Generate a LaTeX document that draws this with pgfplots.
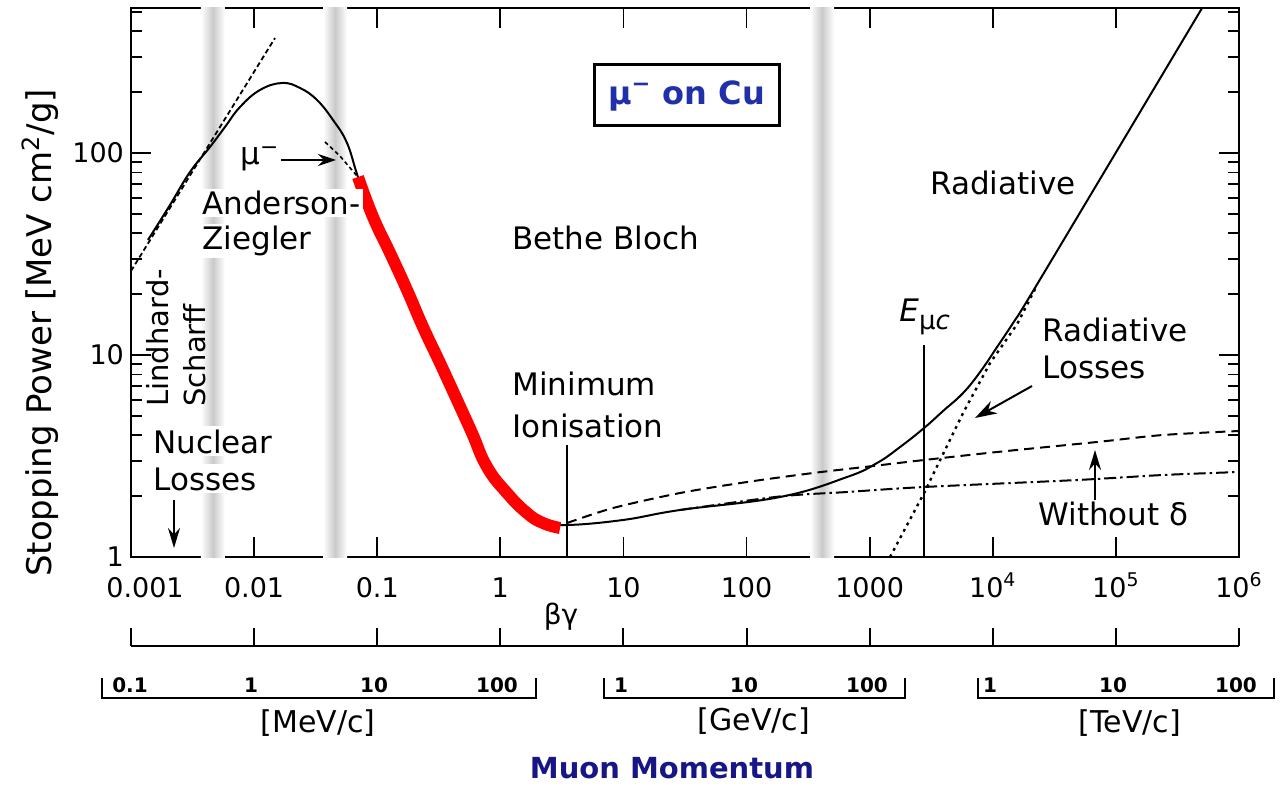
\documentclass[border=0pt]{standalone}
\usepackage{fontspec}
\setmainfont{DejaVu Sans}
\usepackage{pgfplots}
\pgfplotsset{compat=1.18}
\usetikzlibrary{arrows.meta}
\definecolor{cublue}{RGB}{32,48,168}
\definecolor{navy}{RGB}{22,22,135}
\newcommand\fA{\fontsize{15.5}{18}\selectfont}
\newcommand\fT{\fontsize{13.5}{16}\selectfont}
\begin{document}
\begin{tikzpicture}
\begin{axis}[
  at={(0,0)}, anchor=south west, scale only axis,
  width=554pt, height=274.5pt,
  xmode=log, ymode=log,
  xmin=1e-3, xmax=1e6, ymin=1, ymax=522.2,
  xtick={1e-3,1e-2,1e-1,1,10,100,1000,1e4,1e5,1e6},
  xticklabels={\hspace*{14pt}0.001,0.01,0.1,1,10,100,1000,10\textsuperscript{4},10\textsuperscript{5},10\textsuperscript{6}},
  xminorticks=false,
  ytick={1,10,100,1000},
  yticklabels={1,10,100,1000},
  tick label style={font=\fT},
  xticklabel style={anchor=base, yshift=-20pt},
  major tick length=10pt, minor tick length=5.5pt,
  tick style={black, line width=0.9pt},
  axis line style={line width=1.3pt},
]
% grey vertical bands
\shade[left color=white,right color=white,middle color=black!21] (axis cs:0.00370,1) rectangle (axis cs:0.00580,522.2);
\shade[left color=white,right color=white,middle color=black!21] (axis cs:0.03630,1) rectangle (axis cs:0.05690,522.2);
\shade[left color=white,right color=white,middle color=black!21] (axis cs:328,1) rectangle (axis cs:514,522.2);

% Lindhard-Scharff
\addplot[black, line width=0.9pt, dash pattern=on 2.5pt off 1.5pt] coordinates {(0.001,26.05) (0.01478,371.0)};
% mu- (Barkas) short dashed
\addplot[black, line width=0.8pt, dash pattern=on 2pt off 1.5pt] coordinates {(0.03767,113.4) (0.04985,96.63) (0.06854,76.92)};
% dashed total
\addplot[black, line width=1pt, dash pattern=on 5pt off 3pt, smooth] coordinates {
(3.482,1.473) (8.233,1.748) (28.83,2.074) (100.9,2.351) (346.9,2.605) (1066,2.822) (2766,3.021) (10837,3.310) (70370,3.710) (241800,4.018) (1e6,4.205)};
% dash-dot without delta
\addplot[black, line width=1pt, dash pattern=on 6pt off 2pt on 1.2pt off 2pt, smooth] coordinates {
(28.83,1.709) (187.2,1.995) (655.2,2.098) (2766,2.221) (48390,2.405) (241800,2.547) (1e6,2.635)};
% dotted radiative
\addplot[black, line width=1.2pt, dash pattern=on 1.4pt off 2.2pt] coordinates {
(1464,1) (2766,2.074) (5737,5.163) (9509,9.127) (15750,14.2) (22060,21.22)};
% main solid curve
\addplot[black, line width=1pt, smooth, tension=0.7] coordinates {
(0.001374,37.10) (0.002074,55.28) (0.003015,80.52) (0.004382,107.1) (0.005801,134.5) (0.007682,168.9) (0.01117,205.1) (0.01685,222.1) (0.02360,209.8) (0.03243,183.0) (0.04375,145.7) (0.05684,112.1) (0.06982,76.06) (0.09245,48.23) (0.1271,31.99) (0.1746,20.98) (0.2355,13.76) (0.3237,9.127) (0.4448,5.988) (0.5888,4.111) (0.7798,2.790) (1.1335,2.074) (1.648,1.651) (2.223,1.49) (3.482,1.440) (9.924,1.525) (28.83,1.709) (187.2,1.982) (655.2,2.489) (1148,2.920) (1766,3.504) (2766,4.350) (3948,5.283) (5737,6.484) (7886,8.236) (10837,10.95) (14620,14.40) (20090,19.60) (74390,74.34) (501500,522.2)};
% red Bethe-Bloch part
\addplot[red, line width=6pt, smooth, tension=0.8] coordinates {
(0.06982,76.06) (0.09245,48.23) (0.1271,31.99) (0.1746,20.98) (0.2355,13.76) (0.3237,9.127) (0.4448,5.988) (0.5888,4.111) (0.7798,2.790) (1.1335,2.074) (1.648,1.651) (2.223,1.473) (3.055,1.392)};
% annotation lines
\draw[black, line width=1pt] (axis cs:3.482,1) -- (axis cs:3.482,3.58);
\draw[black, line width=1pt] (axis cs:2766,1) -- (axis cs:2766,11.2);
\end{axis}

\begin{scope}[x=0.5pt,y=-0.5pt,shift={(-65.5pt,278.5pt)}]
 % y label
 \node[rotate=90,font=\fontsize{17}{20}\selectfont] at (40,333) {Stopping Power [MeV cm\textsuperscript{2}/g]};
 % box title
 \draw[line width=1.5pt, fill=white] (594,65) rectangle (779,126);
 \node[font=\bfseries\fontsize{16}{19}\selectfont, text=cublue] at (686.5,95.5) {μ\textsuperscript{−} on Cu};
 % labels
 \node[font=\fA, anchor=base west, inner sep=0pt] at (240,165) {μ\textsuperscript{−}};
 \draw[line width=1pt,-{Stealth[length=9pt,width=6pt]}] (281,160) -- (336,160);
 \node[font=\fA, anchor=base west, inner sep=1pt, fill=white] at (200,215) {Anderson-};
 \node[font=\fA, anchor=base west, inner sep=1pt, fill=white] at (200,250) {Ziegler};
 \node[font=\fA, anchor=base west, inner sep=0pt] at (512,250) {Bethe Bloch};
 \node[rotate=90, anchor=base west, font=\fontsize{14.5}{17}\selectfont, inner sep=0pt] at (168,407) {Lindhard-};
 \node[rotate=90, anchor=base west, font=\fontsize{14.5}{17}\selectfont, inner sep=0pt] at (205,407) {Scharff};
 \node[font=\fA, anchor=base west, inner sep=1.5pt, fill=white] at (150,453) {Nuclear};
 \node[font=\fA, anchor=base west, inner sep=1.5pt, fill=white] at (150,490) {Losses};
 \draw[line width=1pt,-{Stealth[length=10pt,width=6pt]}] (174,500) -- (174,548);
 \node[font=\fA, anchor=base west, inner sep=0pt] at (512,395) {Minimum};
 \node[font=\fA, anchor=base west, inner sep=0pt] at (512,437) {Ionisation};
 \node[font=\fA, anchor=base west, inner sep=0pt] at (930,195) {Radiative};
 \node[font=\fA, anchor=base west, inner sep=0pt] at (899,322) {\textit{E}\raisebox{-4pt}{\fontsize{13}{15}\selectfont μ\textit{c}}};
 \node[font=\fA, anchor=base west, inner sep=0pt] at (1042,342) {Radiative};
 \node[font=\fA, anchor=base west, inner sep=0pt] at (1042,378) {Losses};
 \draw[line width=1pt,-{Stealth[length=11pt,width=7pt]}] (1032,386) -- (975,418);
 \node[font=\fA, anchor=base west, inner sep=0pt] at (1038,525) {Without δ};
 \draw[line width=1pt,-{Stealth[length=10pt,width=6pt]}] (1095,500) -- (1095,450);
 % beta gamma scale
 \node[font=\fontsize{14}{16}\selectfont] at (561,617) {βγ};
 \draw[line width=1.2pt] (131,646) -- (1239,646);
 \foreach \k in {0,...,9} \draw[line width=1pt] ({131+123.1*\k},646) -- ({131+123.1*\k},628);
 % momentum brackets
 \draw[line width=1.2pt] (102,678) -- (102,698) -- (536,698) -- (536,678);
 \draw[line width=1.2pt] (604,678) -- (604,698) -- (905,698) -- (905,678);
 \draw[line width=1.2pt] (978,678) -- (978,698) -- (1274,698) -- (1274,678);
 \foreach \xx/\lab in {130/0.1, 251/1, 374/10, 497/100, 621/1, 744/10, 867/100, 990/1, 1113/10, 1236/100}
   \node[font=\bfseries\fontsize{10}{12}\selectfont, anchor=base, inner sep=0pt] at (\xx,692) {\lab};
 \node[font=\fontsize{15}{18}\selectfont] at (318,723) {[MeV/c]};
 \node[font=\fontsize{15}{18}\selectfont] at (754,721) {[GeV/c]};
 \node[font=\fontsize{15}{18}\selectfont] at (1130,723) {[TeV/c]};
 \node[font=\bfseries\fontsize{14.5}{17}\selectfont, text=navy] at (672,768) {Muon Momentum};
 % bounding box
 \pgfresetboundingbox
 \path[use as bounding box] (0,0) rectangle (1283,787);
\end{scope}
\end{tikzpicture}
\end{document}
